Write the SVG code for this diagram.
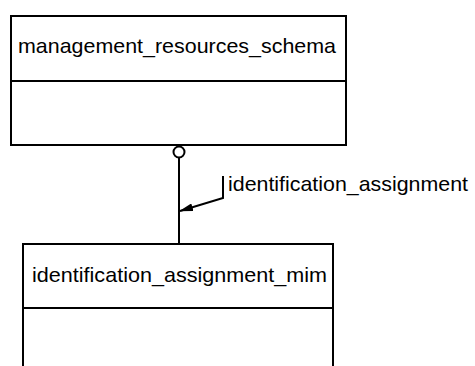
<svg xmlns="http://www.w3.org/2000/svg" width="475" height="366" viewBox="0 0 475 366">
  <defs>
    <style>
      .box { fill: #ffffff; stroke: #000000; stroke-width: 2; }
      .line { fill: none; stroke: #000000; stroke-width: 2; }
      .lbl { font-family: "Liberation Sans", Arial, sans-serif; font-size: 21px; fill: #000000; }
    </style>
    <marker id="arrow" viewBox="0 0 14 8" refX="13" refY="4" markerWidth="14" markerHeight="8" markerUnits="userSpaceOnUse" orient="auto">
      <path d="M0,0 L14,4 L0,8 Z" fill="#000000"/>
    </marker>
  </defs>
  <rect width="475" height="366" fill="#ffffff"/>
  <g id="connectors">
    <line class="line" x1="179" y1="158" x2="179" y2="244"/>
    <circle class="line" cx="179" cy="152" r="5.5" style="fill:#ffffff"/>
    <polyline class="line" points="223,176 223,198 180,211" marker-end="url(#arrow)"/>
    <text class="lbl" x="228" y="191" textLength="240" lengthAdjust="spacingAndGlyphs">identification_assignment</text>
  </g>
  <g id="management_resources_schema">
    <rect class="box" x="11" y="16" width="335" height="129"/>
    <line class="line" x1="11" y1="81" x2="346" y2="81"/>
    <text class="lbl" x="18" y="53" textLength="318" lengthAdjust="spacingAndGlyphs">management_resources_schema</text>
  </g>
  <g id="identification_assignment_mim">
    <rect class="box" x="23" y="244" width="310" height="140"/>
    <line class="line" x1="23" y1="308" x2="333" y2="308"/>
    <text class="lbl" x="32" y="282" textLength="295" lengthAdjust="spacingAndGlyphs">identification_assignment_mim</text>
  </g>
</svg>
